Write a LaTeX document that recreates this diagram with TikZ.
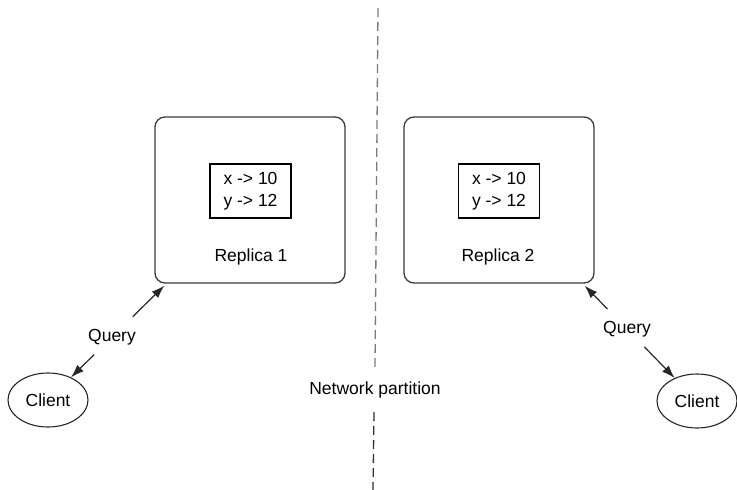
\documentclass[tikz,border=0pt]{standalone}
\usepackage{fontspec}
\setmainfont{Liberation Sans}
\usetikzlibrary{arrows.meta,shapes.geometric}
\definecolor{boxgray}{HTML}{3A3A3A}
\definecolor{dashlight}{HTML}{7A7A7A}
\definecolor{dashdark}{HTML}{303030}
\tikzset{
  txt/.style={font=\fontsize{17.5}{22}\selectfont, text=black, inner sep=0pt},
  replica/.style={draw=boxgray, line width=1.3pt, rounded corners=10pt,
    minimum width=190pt, minimum height=166pt, inner sep=0pt},
  membox/.style={draw=black, line width=1.2pt, minimum width=81pt,
    minimum height=54pt, align=center, txt},
  client/.style={draw=black!85, line width=1.1pt, ellipse, minimum width=80pt,
    minimum height=54pt, inner sep=0pt, txt},
  arr/.style={draw=black!85, line width=1.2pt, -{Latex[length=13pt,width=9pt]}},
  partition/.style={line width=1.3pt, dash pattern=on 9pt off 5pt},
}
\begin{document}
\begin{tikzpicture}[x=1pt,y=-1pt]
\useasboundingbox (0,0) rectangle (737,490);
% partition line
\coordinate (ptop) at (378,8);
\coordinate (pmidA) at (375,368);
\coordinate (pmidB) at (374,412);
\coordinate (pbot) at (373,490);
\draw[partition, dashlight] (ptop) -- (pmidA);
\draw[partition, dashdark] (pmidB) -- (pbot);
\node[txt] (net) at (375,390) {Network partition};
% replica 1
\node[replica] (rep1) at (250,200) {};
\node[membox] (mem1) at (250.5,191) {x -> 10\\y -> 12};
\node[txt] (lab1) at (251,257) {Replica 1};
% replica 2
\node[replica] (rep2) at (499,200) {};
\node[membox] (mem2) at (499,191) {x -> 10\\y -> 12};
\node[txt] (lab2) at (498,257) {Replica 2};
% clients
\node[client] (c1) at (48,400) {Client};
\node[client] (c2) at (697,401) {Client};
% queries
\node[txt] (q1) at (112,337) {Query};
\node[txt] (q2) at (627,329) {Query};
\coordinate (t1) at ([shift={(10,2)}]rep1.south west);
\coordinate (t2) at ([shift={(-10,2)}]rep2.south east);
\draw[arr, shorten <=29pt] (q1.center) -- (t1);
\draw[arr, shorten <=25pt] (q1.center) -- (c1);
\draw[arr, shorten <=28pt] (q2.center) -- (t2);
\draw[arr, shorten <=25pt] (q2.center) -- (c2);
\end{tikzpicture}
\end{document}
